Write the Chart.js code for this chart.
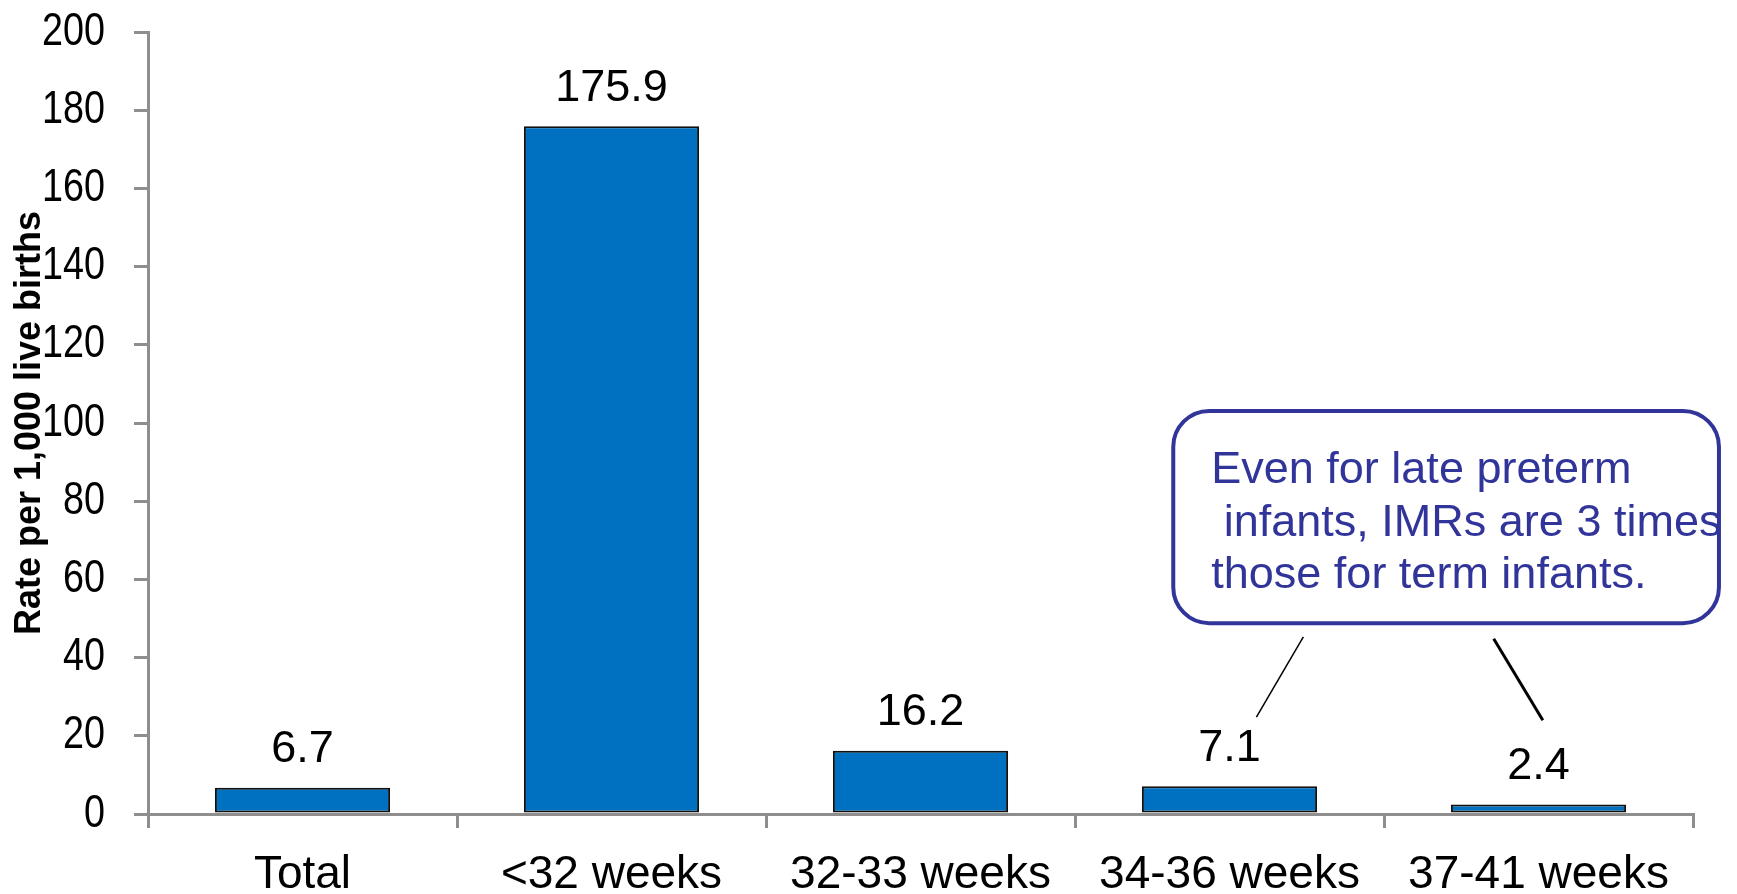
<!DOCTYPE html>
<html>
<head>
<meta charset="utf-8">
<title>Infant mortality rate by gestational age</title>
<script src="https://cdn.jsdelivr.net/npm/chart.js@4.4.1/dist/chart.umd.min.js"></script>
<style>
    html, body { margin: 0; padding: 0; background: #fff; }
    .chart-wrap { position: relative; width: 1737px; height: 894px; }
</style>
</head>
<body>
<div class="chart-wrap"><canvas id="imrChart"></canvas></div>
<script>
// ── Data ──
const categories = ['Total', '<32 weeks', '32-33 weeks', '34-36 weeks', '37-41 weeks'];
const rates = [6.7, 175.9, 16.2, 7.1, 2.4];
const rateLabels = ['6.7', '175.9', '16.2', '7.1', '2.4'];
const yTicks = [0, 20, 40, 60, 80, 100, 120, 140, 160, 180, 200];
const yTitle = 'Rate per 1,000 live births';
const calloutLines = ['Even for late preterm', ' infants, IMRs are 3 times', 'those for term infants.'];

const SANS = "'Liberation Sans', Arial, sans-serif";
const AXIS_GREY = '#8e8e8e';
const CALLOUT_BLUE = '#31359a';

// callout placed in scale units (x = category index, y = rate)
const callout = {
    left: 2.818, right: 4.584, top: 103.1, bottom: 48.8,
    leaders: [
        { from: [3.239, 45.3], to: [3.087, 24.8], width: 1.5 },
        { from: [3.855, 44.8], to: [4.014, 24.0], width: 3 }
    ]
};

// value labels over the bars
const valueLabels = {
    id: 'valueLabels',
    afterDatasetsDraw(chart) {
        const ctx = chart.ctx;
        const meta = chart.getDatasetMeta(0);
        ctx.save();
        ctx.font = `45px ${SANS}`;
        ctx.fillStyle = '#000';
        ctx.textAlign = 'center';
        ctx.textBaseline = 'middle';
        meta.data.forEach((bar, i) => {
            ctx.fillText(rateLabels[i], bar.x, bar.y - 38);
        });
        ctx.restore();
    }
};

// y tick labels: the original uses a condensed face, so squeeze them a bit
const yTickLabels = {
    id: 'yTickLabels',
    afterDraw(chart) {
        const ctx = chart.ctx;
        const ys = chart.scales.y;
        const right = ys.right - 14 - 29;
        ctx.save();
        ctx.font = `46px ${SANS}`;
        ctx.fillStyle = '#000';
        ctx.textAlign = 'right';
        ctx.textBaseline = 'middle';
        yTicks.forEach(v => {
            ctx.save();
            ctx.translate(right, ys.getPixelForValue(v));
            ctx.scale(0.82, 1);
            ctx.fillText(String(v), 0, 0);
            ctx.restore();
        });
        ctx.restore();
    }
};

// rotated y title, sitting over the tick labels like the original
const yAxisTitle = {
    id: 'yAxisTitle',
    afterDraw(chart) {
        const ctx = chart.ctx;
        const area = chart.chartArea;
        ctx.save();
        ctx.translate(30, (area.top + area.bottom) / 2);
        ctx.rotate(-Math.PI / 2);
        ctx.font = `bold 36px ${SANS}`;
        ctx.fillStyle = '#000';
        ctx.textAlign = 'center';
        ctx.textBaseline = 'middle';
        ctx.fillText(yTitle, 0, 0);
        ctx.restore();
    }
};

const calloutBox = {
    id: 'calloutBox',
    afterDraw(chart) {
        const ctx = chart.ctx;
        const xs = chart.scales.x, ys = chart.scales.y;
        const l = xs.getPixelForValue(callout.left);
        const r = xs.getPixelForValue(callout.right);
        const t = ys.getPixelForValue(callout.top);
        const b = ys.getPixelForValue(callout.bottom);
        ctx.save();
        ctx.beginPath();
        ctx.roundRect(l, t, r - l, b - t, 36);
        ctx.fillStyle = '#fff';
        ctx.fill();
        ctx.lineWidth = 4;
        ctx.strokeStyle = CALLOUT_BLUE;
        ctx.stroke();

        ctx.font = `45px ${SANS}`;
        ctx.fillStyle = CALLOUT_BLUE;
        ctx.textAlign = 'left';
        ctx.textBaseline = 'middle';
        calloutLines.forEach((line, i) => {
            ctx.fillText(line, l + 38, t + 60 + i * 52.5);
        });

        ctx.strokeStyle = '#000';
        callout.leaders.forEach(ld => {
            ctx.beginPath();
            ctx.lineWidth = ld.width;
            ctx.moveTo(xs.getPixelForValue(ld.from[0]), ys.getPixelForValue(ld.from[1]));
            ctx.lineTo(xs.getPixelForValue(ld.to[0]), ys.getPixelForValue(ld.to[1]));
            ctx.stroke();
        });
        ctx.restore();
    }
};

// ── Build Chart ──
const ctx = document.getElementById('imrChart').getContext('2d');
const imrChart = new Chart(ctx, {
    type: 'bar',
    data: {
        labels: categories,
        datasets: [{
            label: 'Infant mortality rate',
            data: rates,
            backgroundColor: '#0070c0',
            borderColor: '#111',
            borderWidth: 2,
            borderSkipped: false,
            categoryPercentage: 1,
            barPercentage: 0.567
        }]
    },
    options: {
        responsive: true,
        maintainAspectRatio: false,
        animation: false,
        layout: { padding: { top: 32, right: 44, left: 0, bottom: 0 } },
        plugins: {
            legend: { display: false },
            tooltip: { enabled: false }
        },
        scales: {
            x: {
                afterFit: s => { s.height = 80; },
                border: { color: AXIS_GREY, width: 3 },
                grid: {
                    offset: true,
                    drawOnChartArea: false,
                    drawTicks: true,
                    tickLength: 14,
                    color: AXIS_GREY,
                    lineWidth: 3
                },
                ticks: {
                    color: '#000',
                    padding: 20,
                    maxRotation: 0,
                    autoSkip: false,
                    font: { family: SANS, size: 46 }
                }
            },
            y: {
                min: 0,
                max: 200,
                afterFit: s => { s.width = 148; s.paddingTop = 0; s.paddingBottom = 0; },
                afterBuildTicks: s => { s.ticks = yTicks.map(v => ({ value: v })); },
                border: { color: AXIS_GREY, width: 3 },
                grid: {
                    drawOnChartArea: false,
                    drawTicks: true,
                    tickLength: 14,
                    color: AXIS_GREY,
                    lineWidth: 3
                },
                ticks: { display: false }
            }
        }
    },
    plugins: [valueLabels, yTickLabels, yAxisTitle, calloutBox]
});
</script>
</body>
</html>
